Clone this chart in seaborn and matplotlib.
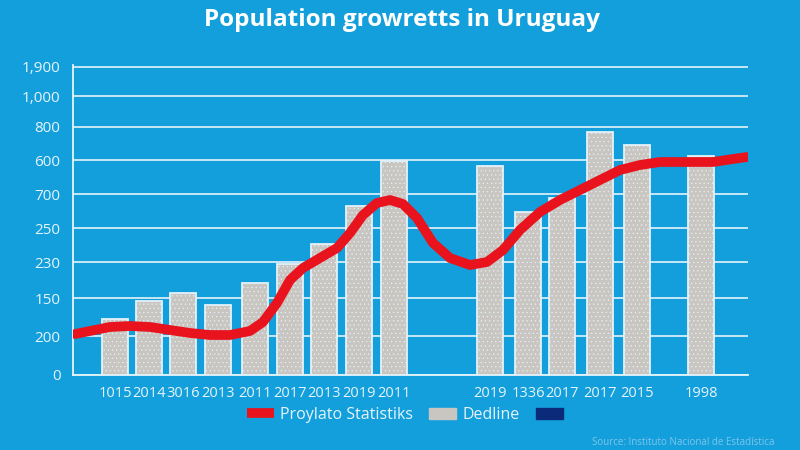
import numpy as np
import pandas as pd
import seaborn as sns
import matplotlib.pyplot as plt
from matplotlib.lines import Line2D
from matplotlib.patches import Patch

# bar data (x positions in axis units, heights in axis units)
bar_x = [115, 149, 183, 218, 255, 290, 324, 359, 394, 490, 528, 562, 600, 637, 701]
bar_h = [56, 74, 82, 70, 92, 111, 131, 169, 214, 209, 163, 177, 243, 230, 219]
bar_labels = ["1015", "2014", "3016", "2013", "2011", "2017", "2013", "2019", "2011",
              "2019", "1336", "2017", "2017", "2015", "1998"]

# red trend line
line_x = [75, 90, 110, 130, 150, 170, 190, 210, 230, 250, 263, 277, 290, 303, 320,
          337, 350, 363, 377, 390, 403, 417, 433, 450, 470, 487, 503, 520, 540, 560,
          580, 600, 620, 640, 660, 687, 713, 733, 747]
line_y = [41, 44, 48, 49, 48, 45, 42, 40, 40, 44, 53, 72, 95, 107, 117,
          127, 142, 160, 172, 175, 171, 157, 132, 117, 110, 113, 125, 145, 163, 175,
          185, 195, 205, 210, 213, 213, 213, 216, 218]

# y ticks (odd labels, positions)
ytick_pos = [0, 39, 77, 113, 147, 181, 215, 248, 279, 308]
ytick_lab = ["0", "200", "150", "230", "250", "700", "600", "800", "1,000", "1,900"]

minor_x = [203, 442, 509, 546, 619, 676, 746]

bg = "#139fdc"
fg = "#e6f4fb"

sns.set_style("white")
plt.rcParams["font.family"] = ["Open Sans", "DejaVu Sans"]
plt.rcParams["hatch.color"] = "#aeaaa6"
plt.rcParams["hatch.linewidth"] = 0.4

fig = plt.figure(figsize=(8, 4.5), dpi=100, facecolor=bg)
ax = fig.add_axes([73 / 800, 75 / 450, 675 / 800, 310 / 450])
ax.set_facecolor(bg)

bars = pd.DataFrame({"x": bar_x, "h": bar_h})
sns.barplot(data=bars, x="x", y="h", native_scale=True, width=0.79,
            color="#c9c5c1", saturation=1, edgecolor="#e4f2fa", linewidth=1.3,
            ax=ax, zorder=3)
for p in ax.patches:
    p.set_hatch("....")

trend = pd.DataFrame({"x": line_x, "y": line_y})
sns.lineplot(data=trend, x="x", y="y", color="#e8131c", linewidth=7,
             solid_capstyle="round", solid_joinstyle="round", ax=ax, zorder=4)

ax.set_xlim(73, 748)
ax.set_ylim(0, 310)
ax.set_yticks(ytick_pos)
ax.set_yticklabels(ytick_lab)
ax.set_xticks(bar_x)
ax.set_xticklabels(bar_labels)
ax.set_xticks(minor_x, minor=True)
ax.tick_params(axis="x", which="major", length=0, pad=8, labelsize=10.5, colors=fg)
ax.tick_params(axis="x", which="minor", length=5, width=1.2, color=fg, direction="out")
ax.tick_params(axis="y", length=6, width=1.2, color=fg, labelcolor=fg, labelsize=11, pad=3)
ax.yaxis.grid(True, color=fg, linewidth=1.2, zorder=0)
ax.set_axisbelow(True)
for s in ["top", "right"]:
    ax.spines[s].set_visible(False)
for s in ["left", "bottom"]:
    ax.spines[s].set_color(fg)
    ax.spines[s].set_linewidth(1.3)
ax.set_xlabel("")
ax.set_ylabel("")

fig.text(0.502, 0.955, "Population growretts in Uruguay", ha="center", va="center",
         color="white", fontsize=17.5, fontweight="bold")

handles = [Line2D([0], [0], color="#e8131c", linewidth=7, solid_capstyle="butt"),
           Patch(facecolor="#c9c5c1", edgecolor="#c9c5c1"),
           Patch(facecolor="#0c2a7a", edgecolor="#0c2a7a")]
leg = fig.legend(handles, ["Proylato Statistiks", "Dedline", ""], loc="center",
                 bbox_to_anchor=(0.51, 0.078), ncol=3, frameon=False,
                 fontsize=11.5, labelcolor=fg, handlelength=1.7, columnspacing=1.0,
                 handletextpad=0.4)

fig.text(0.74, 0.004, "Source: Instituto Nacional de Estadística", ha="left", va="bottom",
         color="#7fc6ea", fontsize=7)

fig.savefig("out.png", dpi=100, facecolor=bg)
